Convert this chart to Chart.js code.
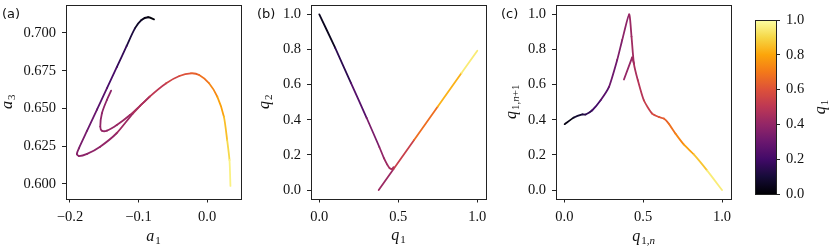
<!DOCTYPE html>
<html>
<head>
<meta charset="utf-8">
<script src="https://cdn.jsdelivr.net/npm/chart.js@4.4.1/dist/chart.umd.min.js"></script>
<style>
body{margin:0;background:#fff;}
#wrap{position:relative;width:830px;height:249px;overflow:hidden;}
canvas{position:absolute;left:0;top:0;}
.lab{position:absolute;top:6px;font:13px "DejaVu Sans";color:#111;}
</style>
</head>
<body>
<div id="wrap">
<canvas id="ca" width="830" height="249"></canvas>
<canvas id="cb" width="830" height="249"></canvas>
<canvas id="cc" width="830" height="249"></canvas>
<canvas id="cbar" width="830" height="249"></canvas>
<div class="lab" style="left:2px">(a)</div>
<div class="lab" style="left:257px">(b)</div>
<div class="lab" style="left:501px">(c)</div>
</div>
<script>
// panel (a): a3 vs a1, coloured by q1
const a1Main=[-0.0774,-0.086,-0.0957,-0.1053,-0.1173,-0.1317,-0.146,-0.1606,-0.175,-0.187,-0.190,-0.187,-0.175,-0.156,-0.132,-0.108,-0.0837,-0.0596,-0.0404,-0.0236,-0.0115,0.0029,0.0149,0.0245,0.0293,0.0327,0.0341];
const a3Main=[0.709,0.7104,0.7086,0.703,0.6914,0.6774,0.6635,0.6493,0.6353,0.6236,0.6199,0.6185,0.6199,0.6247,0.6336,0.6468,0.6578,0.6667,0.6715,0.6733,0.6722,0.6667,0.6578,0.6446,0.6291,0.6159,0.5987];
const q1Main=[0,0.02,0.05,0.09,0.14,0.19,0.24,0.28,0.32,0.35,0.37,0.38,0.385,0.39,0.41,0.44,0.48,0.53,0.58,0.62,0.66,0.71,0.76,0.82,0.88,0.93,1.0];
const a1Loop=[-0.140,-0.1462,-0.1534,-0.1558,-0.1534,-0.146,-0.1317,-0.1125,-0.098,-0.0837];
const a3Loop=[0.6618,0.6556,0.6468,0.638,0.6353,0.6353,0.639,0.6457,0.6517,0.6578];
const q1Loop=[0.38,0.385,0.39,0.395,0.40,0.405,0.41,0.43,0.46,0.48];

// panel (b): q2 vs q1
const q1BrA=[0,0.1,0.2,0.3,0.38,0.41,0.43,0.445,0.46,0.47];
const q2BrA=[1.0,0.81,0.61,0.41,0.245,0.18,0.145,0.125,0.12,0.13];
const q1BrB=[0.376,0.47,0.6,0.75,0.9,1.0];
const q2BrB=[0.0,0.12,0.285,0.475,0.666,0.793];

// panel (c): return map q1,n+1 vs q1,n
const qnMain=[0.002,0.061,0.114,0.135,0.177,0.23,0.283,0.335,0.367,0.411,0.426,0.441,0.466,0.504,0.557,0.599,0.631,0.662,0.705,0.757,0.821,0.905,1.0];
const qn1Main=[0.375,0.413,0.43,0.43,0.454,0.511,0.587,0.74,0.854,1.0,0.873,0.72,0.625,0.511,0.435,0.416,0.407,0.378,0.321,0.26,0.203,0.112,0.0];
const qnSide=[0.378,0.43,0.441];
const qn1Side=[0.629,0.755,0.72];

// ticks
const aXTicks=[-0.2,-0.1,0.0];
const aYTicks=[0.600,0.625,0.650,0.675,0.700];
const qTicksX=[0.0,0.5,1.0];
const qTicksY=[0.0,0.2,0.4,0.6,0.8,1.0];
const cbTicks=[0.0,0.2,0.4,0.6,0.8,1.0];

const infStops=["#000004","#160b39","#420a68","#6a176e","#932667","#bc3754","#dd513a","#f37819","#fca50a","#f6d746","#fcffa4"];
function hex(h){return [1,3,5].map(i=>parseInt(h.substr(i,2),16));}
function inferno(t){
t=Math.max(0,Math.min(1,t));
const s=t*10,i=Math.min(9,Math.floor(s)),f=s-i;
const a=hex(infStops[i]),b=hex(infStops[i+1]);
return "rgb("+a.map((v,k)=>Math.round(v+(b[k]-v)*f)).join(",")+")";
}
function fmt(v,d){return v.toFixed(d).replace("-","\u2212");}

const tickFont={family:"Liberation Serif",size:14.5};

const frame={id:"frame",afterDraw(c){
const a=c.chartArea,x=c.ctx;
x.save();x.strokeStyle="#222";x.lineWidth=1;
x.strokeRect(Math.round(a.left)+0.5,Math.round(a.top)+0.5,Math.round(a.right-a.left),Math.round(a.bottom-a.top));
x.restore();
}};

function drawSub(ctx,main,sub,cx,cy,rot){
ctx.save();ctx.translate(cx,cy);ctx.rotate(rot);
ctx.fillStyle="#111";ctx.textBaseline="alphabetic";
const mf='italic 16px "Liberation Serif"';
ctx.font=mf;const mw=ctx.measureText(main).width;
const parts=[...sub].map(ch=>({ch,f:/[a-z]/.test(ch)?'italic 11px "Liberation Serif"':'11px "Liberation Serif"'}));
let sw=0;parts.forEach(p=>{ctx.font=p.f;p.w=ctx.measureText(p.ch).width;sw+=p.w;});
let x=-(mw+sw+1)/2;
ctx.font=mf;ctx.fillText(main,x,4);x+=mw+1;
parts.forEach(p=>{ctx.font=p.f;ctx.fillText(p.ch,x,7);x+=p.w;});
ctx.restore();
}

const titles={id:"titles",afterDraw(c,args,o){
const a=c.chartArea;
if(o.x) drawSub(c.ctx,o.x[0],o.x[1],(a.left+a.right)/2,a.bottom+o.xOff,0);
if(o.y) drawSub(c.ctx,o.y[0],o.y[1],a.left-o.yOff,(a.top+a.bottom)/2,-Math.PI/2);
}};

function line(xs,ys,qs,tension){
return {
data:xs.map((v,i)=>({x:v,y:ys[i]})),
showLine:true,pointRadius:0,borderWidth:1.8,tension:tension,
borderCapStyle:"round",borderJoinStyle:"round",
borderColor:inferno(qs[0]),
segment:{borderColor:ctx=>inferno((qs[ctx.p0DataIndex]+qs[ctx.p1DataIndex])/2)}
};
}

function axis(min,max,ticks,dec,extra){
return Object.assign({
type:"linear",min:min,max:max,
afterBuildTicks:s=>{s.ticks=ticks.map(v=>({value:v}));},
ticks:{font:tickFont,color:"#111",padding:6,autoSkip:false,maxRotation:0,callback:v=>fmt(v,dec)},
grid:{drawOnChartArea:false,tickLength:4,tickColor:"#222",tickWidth:1},
border:{display:false}
},extra||{});
}

function noPad(s){s.paddingTop=0;s.paddingBottom=0;s.paddingLeft=0;s.paddingRight=0;}

function panel(id,datasets,xs,ys,box,tt){
return new Chart(document.getElementById(id),{
type:"scatter",
data:{datasets:datasets},
options:{
responsive:false,animation:false,events:[],
layout:{padding:{left:box.l-60,right:830-box.r,top:box.t,bottom:249-box.b-40}},
scales:{
x:Object.assign(xs,{afterFit:s=>{s.height=40;noPad(s);}}),
y:Object.assign(ys,{afterFit:s=>{s.width=60;noPad(s);}})
},
plugins:{legend:{display:false},tooltip:{enabled:false},titles:tt}
},
plugins:[frame,titles]
});
}

panel("ca",[line(a1Main,a3Main,q1Main,0.25),line(a1Loop,a3Loop,q1Loop,0.3)],
axis(-0.2058,0.0495,aXTicks,1),axis(0.5904,0.7185,aYTicks,3),
{l:66,r:241,t:5,b:198.5},{x:["a","1"],y:["a","3"],xOff:38,yOff:58});

panel("cb",[line(q1BrA,q2BrA,q1BrA,0.15),line(q1BrB,q2BrB,q1BrB,0)],
axis(-0.0525,1.055,qTicksX,1),axis(-0.048,1.053,qTicksY,1),
{l:311,r:486,t:5,b:198.5},{x:["q","1"],y:["q","2"],xOff:37,yOff:46});

panel("cc",[line(qnMain,qn1Main,qnMain,0.2),line(qnSide,qn1Side,qnSide,0)],
axis(-0.053,1.057,qTicksX,1),axis(-0.048,1.053,qTicksY,1),
{l:556,r:731,t:5,b:198.5},{x:["q","1,n"],y:["q","1,n+1"],xOff:38,yOff:44});

// colorbar
const gradPlugin={id:"grad",beforeDatasetsDraw(c){
const a=c.chartArea,x=c.ctx;
const g=x.createLinearGradient(0,a.bottom,0,a.top);
for(let i=0;i<=50;i++) g.addColorStop(i/50,inferno(i/50));
x.save();x.fillStyle=g;x.fillRect(a.left,a.top,a.right-a.left,a.bottom-a.top);x.restore();
}};
new Chart(document.getElementById("cbar"),{
type:"scatter",
data:{datasets:[{data:[]}]},
options:{
responsive:false,animation:false,events:[],
layout:{padding:{left:755,right:830-776-50,top:20,bottom:249-194}},
scales:{
x:{display:false,min:0,max:1},
y:axis(0,1,cbTicks,1,{position:"right",afterFit:s=>{s.width=50;noPad(s);}})
},
plugins:{legend:{display:false},tooltip:{enabled:false},titles:{}}
},
plugins:[gradPlugin,frame,{id:"cbt",afterDraw(c){const a=c.chartArea;drawSub(c.ctx,"q","1",a.right+45,(a.top+a.bottom)/2,-Math.PI/2);}}]
});
</script>
</body>
</html>
